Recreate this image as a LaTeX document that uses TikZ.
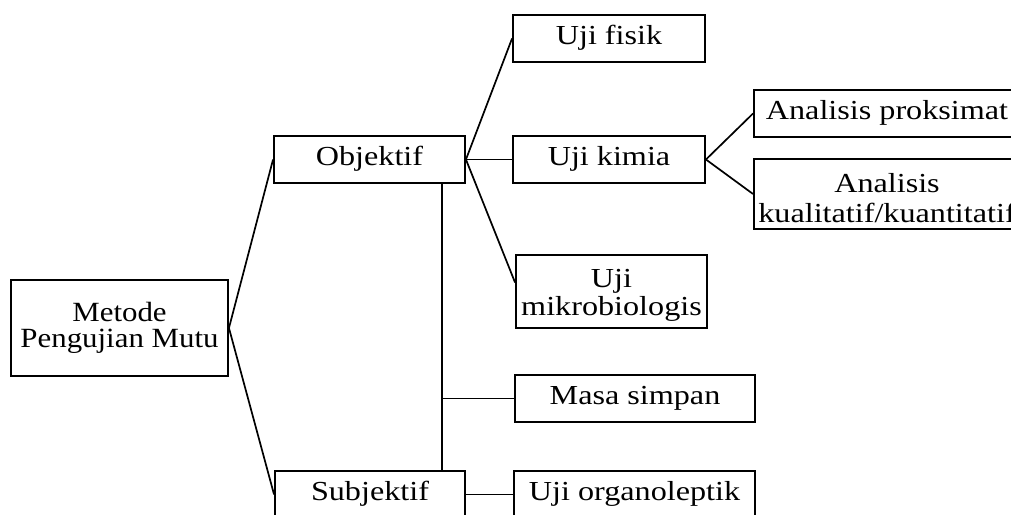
\documentclass[tikz,border=0pt]{standalone}
\usepackage{graphicx}
\usepackage{fontspec}
\setmainfont{Liberation Serif}
\newcommand{\hs}[1]{\scalebox{1.17}[1]{#1}}
\newcommand{\hm}[1]{\scalebox{1.11}[1]{#1}}
\begin{document}
\begin{tikzpicture}[x=1pt,y=-1pt,
  box/.style={draw,line width=1.9pt,inner sep=0pt,align=center,font=\fontsize{27.5}{28}\selectfont},
  one/.style={text height=18.5pt,text depth=6.9pt},
  link/.style={line width=1.7pt},
  trunk/.style={line width=2pt}]
\useasboundingbox (0,0) rectangle (1011,514);
\clip (0,0) rectangle (1011,514);
\node[box, minimum width=217pt, minimum height=96pt, font=\fontsize{27.8}{26.6}\selectfont] (met) at (119.5,328) {\hm{Metode}\\\hm{Pengujian Mutu}};
\node[box, one, minimum width=191pt, minimum height=47pt] (obj) at (369.5,159.5) {\hs{Objektif}};
\node[box, one, minimum width=190pt, minimum height=47pt] (sub) at (370,494.5) {\hs{Subjektif}};
\node[box, one, minimum width=192pt, minimum height=47pt] (fis) at (609,38.5) {\hs{Uji fisik}};
\node[box, one, minimum width=192pt, minimum height=47pt] (kim) at (609,159.5) {\hs{Uji kimia}};
\node[box, minimum width=191pt, minimum height=73pt] (mik) at (611.5,291.5) {\rule{0pt}{25pt}\hs{Uji}\\\hs{mikrobiologis}};
\node[box, one, minimum width=240pt, minimum height=47pt] (mas) at (635,398.5) {\hs{Masa simpan}};
\node[box, one, minimum width=241pt, minimum height=47pt] (org) at (634.5,494.5) {\hs{Uji organoleptik}};
\node[box, one, minimum width=266pt, minimum height=47pt] (prx) at (887,113.5) {\hs{Analisis proksimat}};
\node[box, minimum width=266pt, minimum height=70pt, font=\fontsize{27.5}{30}\selectfont] (kual) at (887,194) {\rule{0pt}{27pt}\hs{Analisis}\\\hs{kualitatif/kuantitatif}};
\draw[link] (met.east) -- (obj.west);
\draw[link] (met.east) -- (sub.west);
\draw[link] (obj.east) -- (fis.west);
\draw[link] (obj.east) -- (kim.west);
\draw[link] (obj.east) -- ([yshift=9pt]mik.west);
\draw[link] (kim.east) -- (prx.west);
\draw[link] (kim.east) -- (kual.west);
\coordinate (top) at ([xshift=72.5pt]obj.south);
\coordinate (bot) at (top |- sub.north);
\coordinate (jn) at (top |- mas.west);
\draw[trunk] (top) -- (bot);
\draw[link] (jn) -- (mas.west);
\draw[link] (sub.east) -- (org.west);
\end{tikzpicture}
\end{document}
